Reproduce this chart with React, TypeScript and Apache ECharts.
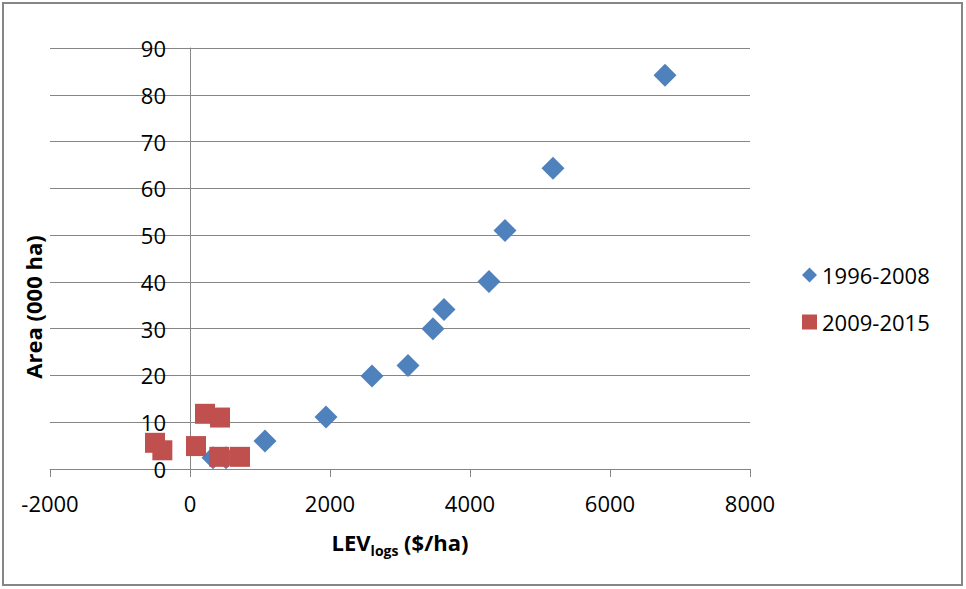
import React, { useEffect, useRef } from "react";
import * as echarts from "echarts";

const seriesNames = ["1996-2008", "2009-2015"];
const blueX = [6786, 5186, 4500, 4271, 3629, 3471, 3114, 2600, 1943, 1071, 329, 514];
const blueY = [84.2, 64.3, 51.0, 40.1, 34.1, 30.0, 22.1, 19.9, 11.1, 6.0, 2.4, 2.4];
const redX = [214, 429, -500, -395, 86, 419, 714];
const redY = [11.8, 11.0, 5.6, 4.0, 4.9, 2.6, 2.6];
const xTicks = { min: -2000, max: 8000, interval: 2000 };
const yTicks = { min: 0, max: 90, interval: 10 };
const xTitle = ["LEV", "logs", " ($/ha)"];
const yTitle = "Area (000 ha)";

const FONT = "'Open Sans', 'Noto Sans', sans-serif";

export default function App() {
  const ref = useRef<HTMLDivElement>(null);
  useEffect(() => {
    if (!ref.current) return;
    const chart = echarts.init(ref.current, null, { renderer: "svg" });
    const blue = blueX.map((x, i) => [x, blueY[i]]);
    const red = redX.map((x, i) => [x, redY[i]]);
    const plotLeft = 50;
    const plotWidth = 700;
    const zeroOffset = ((0 - xTicks.min) / (xTicks.max - xTicks.min)) * plotWidth;
    chart.setOption({
      animation: false,
      backgroundColor: "#ffffff",
      textStyle: { fontFamily: FONT, color: "#000" },
      grid: { left: plotLeft, right: 966 - plotLeft - plotWidth, top: 48, bottom: 120 },
      xAxis: {
        type: "value",
        min: xTicks.min,
        max: xTicks.max,
        interval: xTicks.interval,
        axisLine: { show: true, onZero: true, lineStyle: { color: "#868686", width: 1 } },
        axisTick: { show: true, inside: false, length: 8, lineStyle: { color: "#868686" } },
        axisLabel: { fontSize: 22, color: "#000", margin: 23, fontFamily: FONT, formatter: (v: number) => String(v) },
        splitLine: { show: false },
      },
      yAxis: {
        type: "value",
        min: yTicks.min,
        max: yTicks.max,
        interval: yTicks.interval,
        offset: -zeroOffset,
        axisLine: { show: true, onZero: false, lineStyle: { color: "#868686", width: 1 } },
        axisTick: { show: false },
        axisLabel: { fontSize: 22, color: "#000", margin: 24, fontFamily: FONT, formatter: (v: number) => String(v) },
        splitLine: { show: true, lineStyle: { color: "#868686", width: 1 } },
      },
      legend: {
        orient: "vertical",
        left: 797,
        top: 259,
        itemWidth: 15,
        itemHeight: 15,
        itemGap: 25,
        textStyle: { fontSize: 22, color: "#000", fontFamily: FONT },
        data: seriesNames,
      },
      series: [
        {
          name: seriesNames[0],
          type: "scatter",
          symbol: "diamond",
          symbolSize: 23,
          itemStyle: { color: "#4F81BD", opacity: 1 },
          data: blue,
        },
        {
          name: seriesNames[1],
          type: "scatter",
          symbol: "rect",
          symbolSize: 20,
          itemStyle: { color: "#C0504D", opacity: 1 },
          data: red,
        },
      ],
      graphic: [
        {
          type: "rect",
          shape: { x: 3, y: 3, width: 959, height: 582 },
          style: { fill: "none", stroke: "#868686", lineWidth: 2 },
          silent: true,
          z: 100,
        },
        {
          type: "text",
          x: 33,
          y: 307,
          rotation: Math.PI / 2,
          style: {
            text: yTitle,
            font: `bold 22px ${FONT}`,
            fill: "#000",
            align: "center",
            verticalAlign: "middle",
          },
        },
        {
          type: "text",
          x: 400,
          y: 542,
          style: {
            text: `{b|${xTitle[0]}}{s|${xTitle[1]}}{b|${xTitle[2]}}`,
            align: "center",
            verticalAlign: "middle",
            rich: {
              b: { fontSize: 22, fontWeight: "bold", fontFamily: FONT, fill: "#000", lineHeight: 30, verticalAlign: "middle" },
              s: { fontSize: 14, fontWeight: "bold", fontFamily: FONT, fill: "#000", lineHeight: 30, verticalAlign: "bottom", padding: [8, 0, 0, 0] },
            },
          },
        },
      ],
    });
    return () => chart.dispose();
  }, []);
  return (
    <div
      ref={ref}
      style={{ position: "fixed", left: 0, top: 0, width: 966, height: 589, background: "#fff" }}
    />
  );
}
